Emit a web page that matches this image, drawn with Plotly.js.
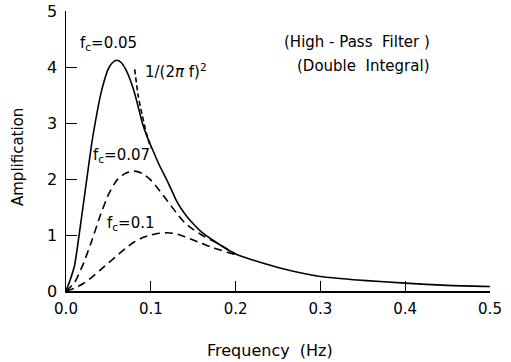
<!DOCTYPE html>
<html>
<head>
<meta charset="utf-8">
<script src="https://cdn.plot.ly/plotly-3.0.1.min.js"></script>
<style>html,body{margin:0;padding:0;background:#fff;}#chart{width:511px;height:362px;}</style>
</head>
<body>
<div id="chart"></div>
<script>
// fc = 0.05 (solid)
const f005 = [0, 0.005, 0.01, 0.015, 0.02, 0.025, 0.03, 0.035, 0.04, 0.045, 0.05, 0.055, 0.06, 0.065, 0.07, 0.075, 0.08, 0.085, 0.09, 0.095, 0.1, 0.11, 0.12, 0.13, 0.14, 0.15, 0.16, 0.18, 0.2, 0.25, 0.3, 0.35, 0.4, 0.45, 0.5];
const a005 = [0, 0.2, 0.45, 0.95, 1.5, 2.05, 2.6, 3.05, 3.45, 3.75, 3.97, 4.08, 4.12, 4.08, 3.97, 3.8, 3.58, 3.3, 3.0, 2.78, 2.6, 2.25, 1.95, 1.62, 1.38, 1.2, 1.05, 0.84, 0.66, 0.42, 0.26, 0.19, 0.14, 0.1, 0.08];
// fc = 0.07 (dashed)
const f007 = [0, 0.01, 0.02, 0.03, 0.04, 0.05, 0.06, 0.07, 0.08, 0.09, 0.1, 0.11, 0.12, 0.13, 0.14, 0.15, 0.16, 0.17, 0.18, 0.2];
const a007 = [0, 0.15, 0.47, 0.88, 1.33, 1.72, 1.98, 2.1, 2.14, 2.1, 1.98, 1.8, 1.6, 1.4, 1.22, 1.1, 1.0, 0.92, 0.84, 0.66];
// fc = 0.1 (dashed)
const f010 = [0, 0.01, 0.02, 0.03, 0.04, 0.05, 0.06, 0.07, 0.08, 0.09, 0.1, 0.11, 0.12, 0.13, 0.14, 0.15, 0.16, 0.17, 0.18, 0.19, 0.2];
const a010 = [0, 0.05, 0.13, 0.24, 0.37, 0.5, 0.63, 0.76, 0.87, 0.95, 1.0, 1.03, 1.04, 1.02, 0.97, 0.91, 0.85, 0.79, 0.74, 0.69, 0.65];
// 1/(2 pi f)^2 (dashed segment)
const fInv = [0.081, 0.085, 0.09, 0.095, 0.1];
const aInv = [3.96, 3.5, 3.13, 2.81, 2.55];

const xTicks = [0, 0.1, 0.2, 0.3, 0.4, 0.5];
const xTickText = ['0.0', '0.1', '0.2', '0.3', '0.4', '0.5'];
const yTicks = [0, 1, 2, 3, 4, 5];
const yTickText = ['0', '1', '2', '3', '4', '5'];

const FONT = 'DejaVu Sans, sans-serif';
const ln = (x, y, dash) => ({x: x, y: y, type: 'scatter', mode: 'lines', line: {color: '#000', width: 1.6, dash: dash, shape: 'spline', smoothing: 0.6}, hoverinfo: 'skip', showlegend: false});

const data = [
  ln(f005, a005, 'solid'),
  ln(f007, a007, '8px,5px'),
  ln(f010, a010, '8px,5px'),
  ln(fInv, aInv, '5px,3px')
];

const ann = (x, y, text, size) => ({xref: 'paper', yref: 'paper', x: x, y: y, text: text, showarrow: false, font: {family: FONT, size: size || 14, color: '#000'}, xanchor: 'center', yanchor: 'middle'});
// paper coords: plot area x 66..490 (424px), y 11..291 (280px)
const px = v => (v - 66) / 424;
const py = v => (291 - v) / 280;

const layout = {
  width: 511, height: 362,
  margin: {l: 66, r: 21, t: 11, b: 71},
  paper_bgcolor: '#fff', plot_bgcolor: '#fff',
  font: {family: FONT, size: 14, color: '#000'},
  xaxis: {range: [0, 0.5], tickvals: xTicks, ticktext: xTickText, ticks: 'inside', ticklen: 10, tickwidth: 1, tickcolor: '#000',
          showline: true, linecolor: '#000', linewidth: 1.5, showgrid: false, zeroline: false, mirror: false,
          ticklabelstandoff: 3, tickfont: {family: FONT, size: 15}, fixedrange: true},
  yaxis: {range: [0, 5], tickvals: yTicks, ticktext: yTickText, ticks: 'inside', ticklen: 11, tickwidth: 1, tickcolor: '#000',
          showline: true, linecolor: '#000', linewidth: 1.5, showgrid: false, zeroline: false, mirror: false,
          ticklabelstandoff: 4, tickfont: {family: FONT, size: 16}, fixedrange: true},
  annotations: [
    ann(px(108), py(43), 'f<sub>c</sub>=0.05', 15),
    ann(px(121), py(155), 'f<sub>c</sub>=0.07', 15),
    ann(px(131), py(223), 'f<sub>c</sub>=0.1', 15),
    ann(px(176), py(71), '1/(2<i>π</i> f)<sup>2</sup>', 15),
    ann(px(357), py(42), '(High - Pass  Filter )', 15),
    ann(px(363), py(66), '(Double  Integral)', 15),
    ann(px(270), py(350), 'Frequency  (Hz)', 16),
    Object.assign(ann(px(18), py(157), 'Amplification', 15), {textangle: -90})
  ]
};

Plotly.newPlot('chart', data, layout, {staticPlot: true, displayModeBar: false});
</script>
</body>
</html>
